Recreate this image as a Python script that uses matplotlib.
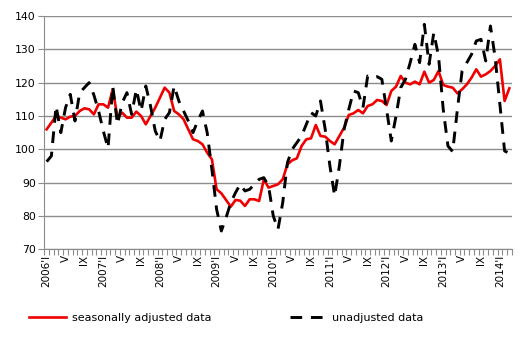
import matplotlib.pyplot as plt
import numpy as np

# monthly index, 2006 I .. 2014 III
adjusted = [106, 108, 110, 109.5, 109, 109.8, 110, 111.5, 112.3, 112, 110.5, 113.5,
            113.5, 112.5, 118, 109.5, 111, 109.5, 109.5, 111.3, 110, 107.5, 110, 112.5,
            115.5, 118.5, 117, 111.5, 110.5, 109, 106, 103, 102.5, 101.5, 99, 97,
            88, 86.8, 84.8, 82.8, 84.8, 84.6, 83, 85, 85, 84.5, 91, 88.5,
            89, 89.5, 91, 95.5, 96.7, 97.3, 101, 103, 103.3, 107.3, 104, 103.8,
            102.5, 101.5, 104, 106.5, 110.3, 110.8, 111.8, 110.8, 113, 113.5, 114.8, 114.5,
            113.3, 117.5, 118.8, 122, 120, 119.5, 120.3, 119.5, 123.3, 120, 120.8, 123.5,
            119.3, 118.8, 118.5, 116.8, 118, 119.5, 121.5, 124, 121.8, 122.5, 123.5, 125,
            127, 114.5, 118.3]

unadjusted = [96.3, 98, 113, 105, 112.5, 116.5, 108.5, 117, 118.5, 120, 116.3, 111.5,
              105.5, 100.3, 119, 107.5, 114, 117, 110.5, 118, 111.5, 119, 113, 105.5,
              102.5, 109, 111, 119, 114.5, 111.5, 108.5, 105, 108.5, 111.5, 105, 94,
              82, 75.5, 79.5, 84, 87, 89.5, 87.5, 88, 89.5, 91, 91.5, 89,
              80, 76, 84, 96, 100, 102, 104, 107.5, 111, 110, 114.5, 106,
              95, 86, 95, 106, 112, 117.5, 117, 112.5, 122, 121.5, 121.8, 121,
              112, 102.5, 110, 118.5, 121, 126, 131.5, 126, 137.5, 125.5, 135, 128,
              112, 101, 99.3, 112, 123.5, 126, 128.5, 132.5, 133, 126.5, 137, 127.5,
              113.5, 99.5, 98.8]

years = list(range(2006, 2015))
months = ["I", "V", "IX"]

x = np.arange(len(adjusted))

tick_pos = []
tick_text = []
for k, yr in enumerate(years):
    for j, m in enumerate(months):
        pos = k * 12 + j * 4
        if pos >= len(adjusted):
            break
        tick_pos.append(pos)
        tick_text.append(f"{yr}'{m}" if m == "I" else m)

fig = plt.figure(figsize=(5.28, 3.38), dpi=100)
ax = fig.add_axes([0.0839, 0.2624, 0.8852, 0.6903])

ax.plot(x, adjusted, color='#f00000', lw=1.9, label='seasonally adjusted data', zorder=3)
ax.plot(x, unadjusted, color='black', lw=2.1, ls=(0, (4, 3)), label='unadjusted data', zorder=4)

grid_c = '#8c8c8c'
ax.set_ylim(70, 140)
ax.set_yticks(range(70, 141, 10))
ax.yaxis.grid(True, color=grid_c, lw=1)
ax.set_axisbelow(True)
ax.set_xlim(-0.5, len(adjusted) - 0.5)

ax.set_xticks(tick_pos)
ax.set_xticklabels(tick_text, rotation=90, fontsize=7.5)
ax.set_xticks(np.arange(-0.5, len(adjusted), 1), minor=True)
ax.tick_params(axis='x', which='major', length=0, pad=4)
ax.tick_params(axis='x', which='minor', length=4, color=grid_c, width=0.8)
ax.tick_params(axis='y', length=4, color=grid_c, labelsize=7.8, pad=2)

for s in ['top', 'right']:
    ax.spines[s].set_visible(False)
for s in ['left', 'bottom']:
    ax.spines[s].set_color(grid_c)

ax.legend(loc='center', bbox_to_anchor=(0.39, -0.295), ncol=2, frameon=False,
          fontsize=8, handlelength=3.3, columnspacing=7.0, handletextpad=0.55)

fig.savefig('out.png', dpi=100)
